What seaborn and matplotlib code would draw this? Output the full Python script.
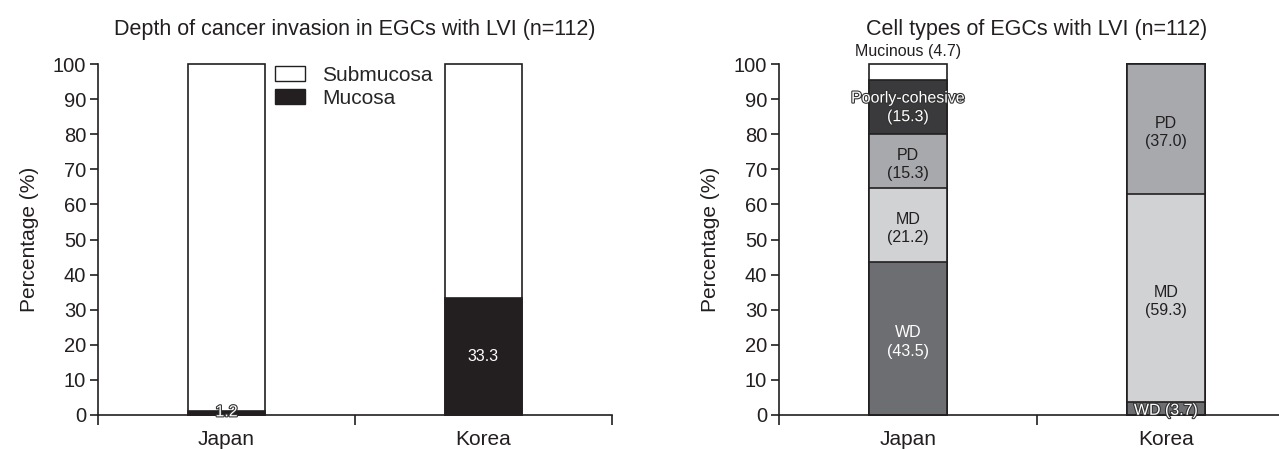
import numpy as np
import matplotlib
matplotlib.use("Agg")
import matplotlib.pyplot as plt
import matplotlib.patheffects as pe
from matplotlib.patches import Patch
import seaborn as sns

# ---- data ----
countries = ["Japan", "Korea"]

# depth of invasion (%)
mucosa = [1.2, 33.3]
submucosa = [98.8, 66.7]

# cell types (%), bottom -> top
cell_types = ["WD", "MD", "PD", "Poorly-cohesive", "Mucinous"]
japan_cells = [43.5, 21.2, 15.3, 15.3, 4.7]
korea_cells = [3.7, 59.3, 37.0, 0.0, 0.0]

sns.set_style("ticks")
plt.rcParams["font.family"] = ["Liberation Sans", "DejaVu Sans"]

ink = "#231f20"
cell_colors = ["#6d6e71", "#d1d2d4", "#a7a9ac", "#3a3a3c", "#ffffff"]
txt_colors = ["white", ink, ink, "white", ink]

fig = plt.figure(figsize=(12.79, 4.49), dpi=100)
ax1 = fig.add_axes([98 / 1279, 34 / 449, 514 / 1279, 351 / 449])
ax2 = fig.add_axes([779 / 1279, 34 / 449, 516 / 1279, 351 / 449])

bw = 0.3
lab_fs = 11.5
outline = [pe.withStroke(linewidth=1.6, foreground="#333333")]

# ---- left panel: cumulative bars drawn tallest first ----
tot = np.array(mucosa) + np.array(submucosa)
sns.barplot(x=countries, y=tot, color="white", edgecolor=ink, linewidth=1.2,
            width=bw, saturation=1, ax=ax1)
sns.barplot(x=countries, y=mucosa, color=ink, edgecolor=ink, linewidth=1.2,
            width=bw, saturation=1, ax=ax1)
ax1.text(0, mucosa[0] / 2 + 0.3, f"{mucosa[0]}", ha="center", va="center",
         color="white", fontsize=lab_fs, path_effects=outline)
ax1.text(1, mucosa[1] / 2, f"{mucosa[1]}", ha="center", va="center",
         color="white", fontsize=lab_fs)

ax1.legend(handles=[Patch(facecolor="white", edgecolor=ink, label="Submucosa"),
                    Patch(facecolor=ink, edgecolor=ink, label="Mucosa")],
           loc="upper left", bbox_to_anchor=(0.325, 1.025), frameon=False,
           borderpad=0, fontsize=15, handlelength=1.4, handleheight=0.75,
           labelspacing=0.2, handletextpad=0.85)
ax1.set_title("Depth of cancer invasion in EGCs with LVI (n=112)",
              fontsize=15.5, pad=21, color=ink)

# ---- right panel ----
jc = np.cumsum(japan_cells)
kc = np.cumsum(korea_cells)
for i in range(len(cell_types) - 1, -1, -1):
    sns.barplot(x=countries, y=[jc[i], kc[i]], color=cell_colors[i],
                edgecolor=ink, linewidth=1.2, width=bw, saturation=1, ax=ax2)

for ci, vals, cum in [(0, japan_cells, jc), (1, korea_cells, kc)]:
    for i, v in enumerate(vals):
        if v == 0:
            continue
        mid = cum[i] - v / 2
        name = cell_types[i]
        if name == "Mucinous":
            ax2.text(ci, 101.5, f"{name} ({v})", ha="center", va="bottom",
                     color=ink, fontsize=lab_fs)
        elif v < 5:
            ax2.text(ci, mid - 0.5, f"{name} ({v})", ha="center", va="center",
                     color="white", fontsize=lab_fs, path_effects=outline)
        elif name == "Poorly-cohesive":
            ax2.text(ci, mid, f"{name}\n({v})", ha="center", va="center",
                     color="white", fontsize=lab_fs, linespacing=1.3,
                     path_effects=outline)
        else:
            ax2.text(ci, mid - 1, f"{name}\n({v:.1f})", ha="center",
                     va="center", color=txt_colors[i], fontsize=lab_fs,
                     linespacing=1.3)
ax2.set_title("Cell types of EGCs with LVI (n=112)", fontsize=15.5, pad=21,
              color=ink)

# ---- shared axis styling ----
for ax in (ax1, ax2):
    ax.set_xlim(-0.5, 1.5)
    ax.set_ylim(0, 100)
    ax.set_yticks(np.arange(0, 101, 10))
    ax.set_xticks([-0.5, 0.5, 1.5])
    ax.set_xticklabels([])
    ax.set_xticks([0, 1], minor=True)
    ax.set_xticklabels(countries, minor=True, fontsize=15, color=ink)
    ax.tick_params(axis="x", which="minor", length=0, pad=11)
    ax.tick_params(axis="x", which="major", length=7, width=1.2, color=ink)
    ax.tick_params(axis="y", length=5.5, width=1.2, color=ink, labelsize=14.5,
                   labelcolor=ink, pad=3)
    ax.set_ylabel("Percentage (%)", fontsize=15, color=ink, labelpad=10)
    ax.set_xlabel("")
    sns.despine(ax=ax)
    for s in ("left", "bottom"):
        ax.spines[s].set_linewidth(1.2)
        ax.spines[s].set_color(ink)
    for p in ax.patches:
        p.set_clip_on(False)

fig.savefig("out.png", dpi=100)
